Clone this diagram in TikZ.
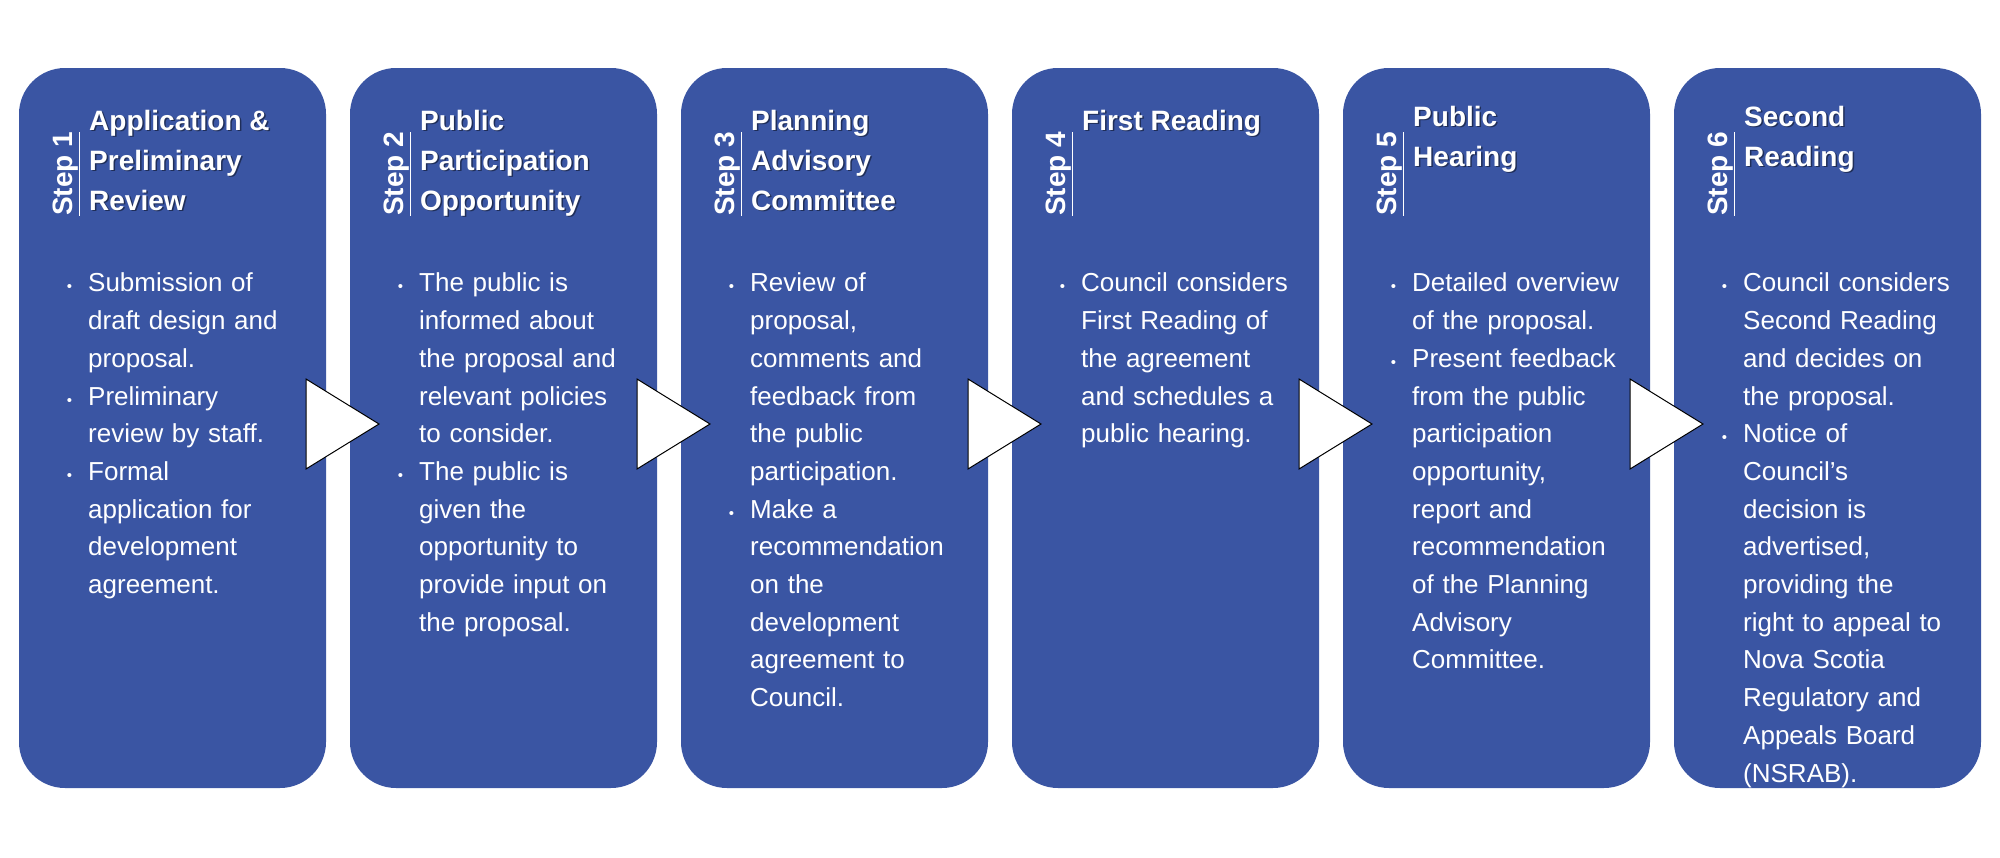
\documentclass[tikz,border=0pt]{standalone}
\usepackage{fontspec}
\setmainfont{Liberation Sans}
\usepackage{enumitem}
\definecolor{stepblue}{HTML}{3A55A3}
\tikzset{
  step box/.style={fill=stepblue, draw=none, rounded corners=46pt},
  step arrow/.style={fill=white, draw=black, line width=1pt, line join=miter},
  step label/.style={rotate=90, anchor=base west, inner sep=0pt, text=white,
    font=\fontsize{28}{40}\selectfont\bfseries},
  step title/.style={anchor=north west, inner sep=0pt, align=left, text=white,
    font=\fontsize{28}{40}\selectfont\bfseries},
  step shadow/.style={anchor=north west, inner sep=0pt, align=left, text=black, opacity=0.45,
    font=\fontsize{28}{40}\selectfont\bfseries},
  step text/.style={anchor=north west, inner sep=0pt, text width=265pt, text=white,
    font=\fontsize{26}{37.7}\selectfont}
}
\newenvironment{stepitems}{\raggedright\begin{itemize}[leftmargin=22pt,labelsep=16pt,itemsep=0pt,topsep=0pt,parsep=0pt,partopsep=0pt,label={\fontsize{15}{15}\selectfont\textbullet}]}{\end{itemize}}
\newcommand{\steptitle}[3]{% x, y, text
  \node[step shadow] at (#1+1.5,#2+1.5) {#3};
  \node[step title] at (#1,#2) {#3};}

\begin{document}
\begin{tikzpicture}[x=1pt,y=-1pt]
  \useasboundingbox (0,0) rectangle (2000,857);
  % boxes and arrows
  \foreach \i in {1,...,6}{
    \pgfmathsetmacro{\l}{19+331*(\i-1)}
    \fill[step box] (\l,68) rectangle (\l+307,788);
    \node[step label] (lab\i) at (\l+53,216) {\underline{Step \i}};
  }
  \foreach \i in {1,...,5}{
    \pgfmathsetmacro{\a}{306+331*(\i-1)}
    \draw[step arrow] (\a,379) -- (\a+73,424) -- (\a,469) -- cycle;
  }
  % step 1
  \steptitle{89}{110}{Application \&\\Preliminary\\Review}
  \node[step text] (txt1) at (66,254) {\begin{stepitems}
    \item Submission of\newline draft design and\newline proposal.
    \item Preliminary\newline review by staff.
    \item Formal\newline application for\newline development\newline agreement.
  \end{stepitems}};
  % step 2
  \steptitle{420}{110}{Public\\Participation\\Opportunity}
  \node[step text] (txt2) at (397,254) {\begin{stepitems}
    \item The public is\newline informed about\newline the proposal and\newline relevant policies\newline to consider.
    \item The public is\newline given the\newline opportunity to\newline provide input on\newline the proposal.
  \end{stepitems}};
  % step 3
  \steptitle{751}{110}{Planning\\Advisory\\Committee}
  \node[step text] (txt3) at (728,254) {\begin{stepitems}
    \item Review of\newline proposal,\newline comments and\newline feedback from\newline the public\newline participation.
    \item Make a\newline recommendation\newline on the\newline development\newline agreement to\newline Council.
  \end{stepitems}};
  % step 4
  \steptitle{1082}{110}{First Reading}
  \node[step text] (txt4) at (1059,254) {\begin{stepitems}
    \item Council considers\newline First Reading of\newline the agreement\newline and schedules a\newline public hearing.
  \end{stepitems}};
  % step 5
  \steptitle{1413}{106}{Public\\Hearing}
  \node[step text] (txt5) at (1390,254) {\begin{stepitems}
    \item Detailed overview\newline of the proposal.
    \item Present feedback\newline from the public\newline participation\newline opportunity,\newline report and\newline recommendation\newline of the Planning\newline Advisory\newline Committee.
  \end{stepitems}};
  % step 6
  \steptitle{1744}{106}{Second\\Reading}
  \node[step text] (txt6) at (1721,254) {\begin{stepitems}
    \item Council considers\newline Second Reading\newline and decides on\newline the proposal.
    \item Notice of\newline Council’s\newline decision is\newline advertised,\newline providing the\newline right to appeal to\newline Nova Scotia\newline Regulatory and\newline Appeals Board\newline (NSRAB).
  \end{stepitems}};
\end{tikzpicture}
\end{document}
